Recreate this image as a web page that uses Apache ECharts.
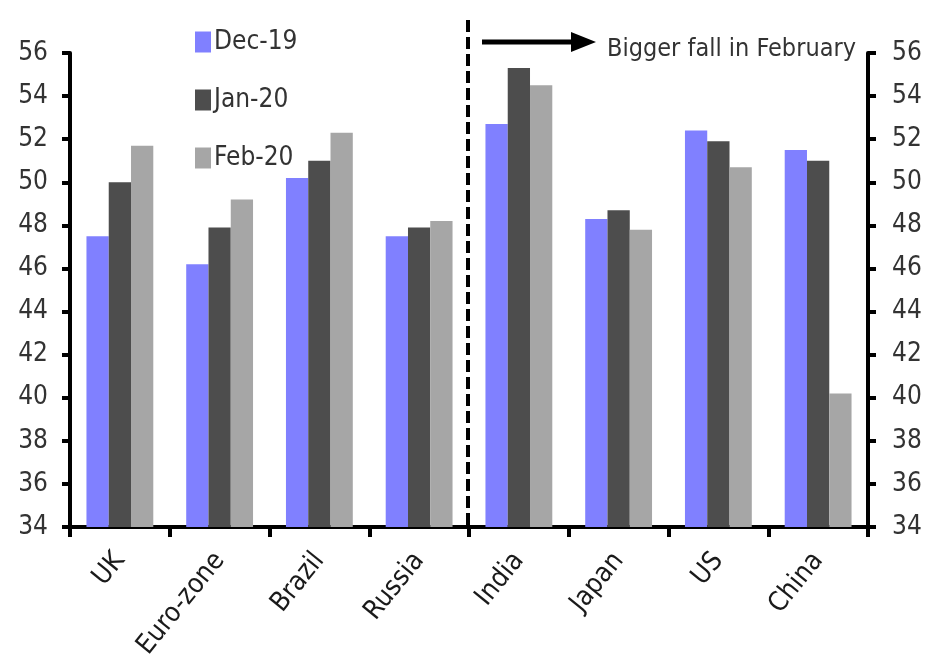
<!DOCTYPE html>
<html>
<head>
<meta charset="utf-8">
<script src="https://cdn.jsdelivr.net/npm/echarts@6/dist/echarts.min.js"></script>
<style>html,body{margin:0;padding:0;background:#fff}#c{width:929px;height:670px}</style>
</head>
<body>
<div id="c"></div>
<script>
const categories = ['UK', 'Euro-zone', 'Brazil', 'Russia', 'India', 'Japan', 'US', 'China'];
const dec19 = [47.5, 46.2, 50.2, 47.5, 52.7, 48.3, 52.4, 51.5];
const jan20 = [50.0, 47.9, 51.0, 47.9, 55.3, 48.7, 51.9, 51.0];
const feb20 = [51.7, 49.2, 52.3, 48.2, 54.5, 47.8, 50.7, 40.2];
const seriesNames = ['Dec-19', 'Jan-20', 'Feb-20'];
const annotation = 'Bigger fall in February';
const dividerAfter = 'Russia';
const dividerBefore = 'India';

const FONT = '"DejaVu Sans Condensed", "Liberation Sans Narrow", sans-serif';
const colors = ['#8080FF', '#4D4D4D', '#A6A6A6'];
const chart = echarts.init(document.getElementById('c'), null, {renderer: 'canvas'});

const yAxisBase = {
  type: 'value', min: 34, max: 56, interval: 2,
  splitLine: {show: false},
  axisLine: {show: true, lineStyle: {color: '#000', width: 4}},
  axisTick: {show: true, length: 8, lineStyle: {color: '#000', width: 4}},
  axisLabel: {color: '#333', fontSize: 26, fontFamily: FONT, margin: 22}
};

chart.setOption({
  animation: false,
  color: colors,
  grid: {left: 70, right: 61, top: 53, bottom: 143, containLabel: false},
  legend: {
    orient: 'vertical', left: 190, top: 24, itemWidth: 16, itemHeight: 21, itemGap: 32,
    icon: 'rect',
    textStyle: {fontSize: 26, fontFamily: FONT, color: '#333', padding: [0, 0, 0, -2]},
    data: seriesNames
  },
  xAxis: {
    type: 'category', data: categories,
    axisLine: {lineStyle: {color: '#000', width: 4}},
    axisTick: {show: true, length: 10, lineStyle: {color: '#000', width: 4}},
    axisLabel: {rotate: 51, fontSize: 27, fontFamily: FONT, color: '#1a1a1a', margin: 29}
  },
  yAxis: [
    Object.assign({}, yAxisBase, {position: 'left'}),
    Object.assign({}, yAxisBase, {position: 'right', axisLabel: Object.assign({}, yAxisBase.axisLabel, {margin: 24})})
  ],
  series: [dec19, jan20, feb20].map((d, i) => ({
    name: seriesNames[i], type: 'bar', data: d,
    barGap: '0%', barCategoryGap: '33%',
    itemStyle: {color: colors[i]}
  }))
});

function drawGraphics() {
  const xa = chart.convertToPixel({xAxisIndex: 0}, dividerAfter);
  const xb = chart.convertToPixel({xAxisIndex: 0}, dividerBefore);
  const xd = (xa + xb) / 2 - 1;
  const yBottom = chart.convertToPixel({yAxisIndex: 0}, 34);
  chart.setOption({
    graphic: [
      {type: 'line', shape: {x1: xd, y1: 20, x2: xd, y2: yBottom}, style: {stroke: '#000', lineWidth: 4, lineDash: [12, 5]}, z: 10},
      {type: 'line', shape: {x1: xd + 14, y1: 42, x2: xd + 105, y2: 42}, style: {stroke: '#000', lineWidth: 5}, z: 10},
      {type: 'polygon', shape: {points: [[xd + 103, 32], [xd + 128, 42], [xd + 103, 52]]}, style: {fill: '#000'}, z: 10},
      {type: 'text', x: xd + 139, y: 49, style: {text: annotation, font: '25px ' + FONT, fill: '#333', verticalAlign: 'middle'}, z: 10}
    ]
  });
}
drawGraphics();
</script>
</body>
</html>
